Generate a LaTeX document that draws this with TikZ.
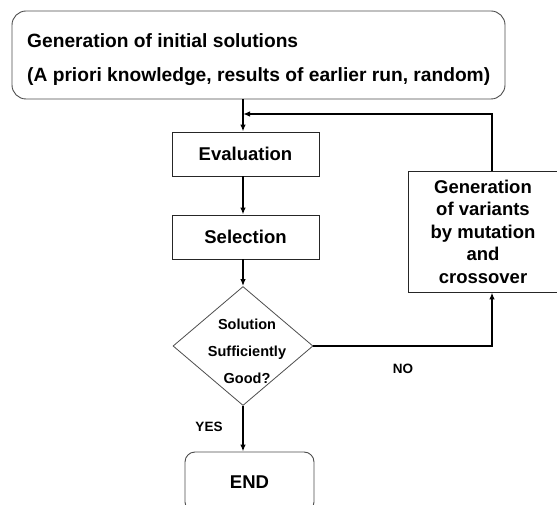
\documentclass[tikz,border=0pt]{standalone}
\usepackage{fontspec}
\setmainfont{Liberation Sans}
\usetikzlibrary{shapes.geometric,arrows.meta}
\begin{document}
\begin{tikzpicture}[x=1pt,y=-1pt,
  box/.style={draw=black!85,line width=0.9pt,inner sep=0pt},
  rbox/.style={draw=black!70,line width=0.9pt,inner sep=0pt,rounded corners=14pt},
  big/.style={font=\bfseries\fontsize{18.5}{34}\selectfont},
  flow/.style={line width=2pt,-{Latex[length=7pt,width=5.5pt]}},
]
\useasboundingbox (0,0) rectangle (557,505);
\clip (0,0) rectangle (557,505);

% boxes
\node[rbox,minimum width=493pt,minimum height=88pt] (init) at (258.5,55) {};
\node[font=\bfseries\fontsize{19.2}{34}\selectfont,anchor=west,align=left,inner sep=0pt] (inittext) at (27,60)
  {Generation of initial solutions\\(A priori knowledge, results of earlier run, random)};
\node[box,big,minimum width=147pt,minimum height=44pt] (eval) at (245.5,154) {Evaluation};
\node[box,big,minimum width=147pt,minimum height=44pt] (sel) at (245.5,237) {Selection};
\node[draw=black!70,line width=0.8pt,diamond,inner sep=0pt,
      minimum width=140pt,minimum height=119pt] (test) at (243,346) {};
\node[font=\bfseries\fontsize{14.5}{27}\selectfont,align=center] (testtext) at (247,351)
  {Solution\\Sufficiently\\Good?};
\node[box,font=\bfseries\fontsize{18.5}{22.5}\selectfont,align=center,
      minimum width=150pt,minimum height=121pt] (vary) at (483,231.5)
  {Generation\\of variants\\by mutation\\and\\crossover};
\node[rbox,rounded corners=10pt,big,minimum width=129pt,minimum height=60pt] (end) at (249.5,482) {END};

% branch labels
\node[font=\bfseries\fontsize{13.5}{16}\selectfont] (yes) at (209,427) {YES};
\node[font=\bfseries\fontsize{13.5}{16}\selectfont] (no) at (403,369) {NO};

% connectors
\coordinate (spine) at (243,0);
\coordinate (loopx) at (492,0);
\coordinate (join) at (243,114);
\draw[flow] (init.south -| spine) -- (eval.north -| spine);
\draw[flow] (eval.south -| spine) -- (sel.north -| spine);
\draw[flow] (sel.south -| spine) -- (test.north);
\draw[flow] (test.south) -- (end.north -| test.south);
\draw[flow] (test.east) -| (vary.south -| loopx);
\draw[flow] (vary.north -| loopx) |- (join);
\end{tikzpicture}
\end{document}
